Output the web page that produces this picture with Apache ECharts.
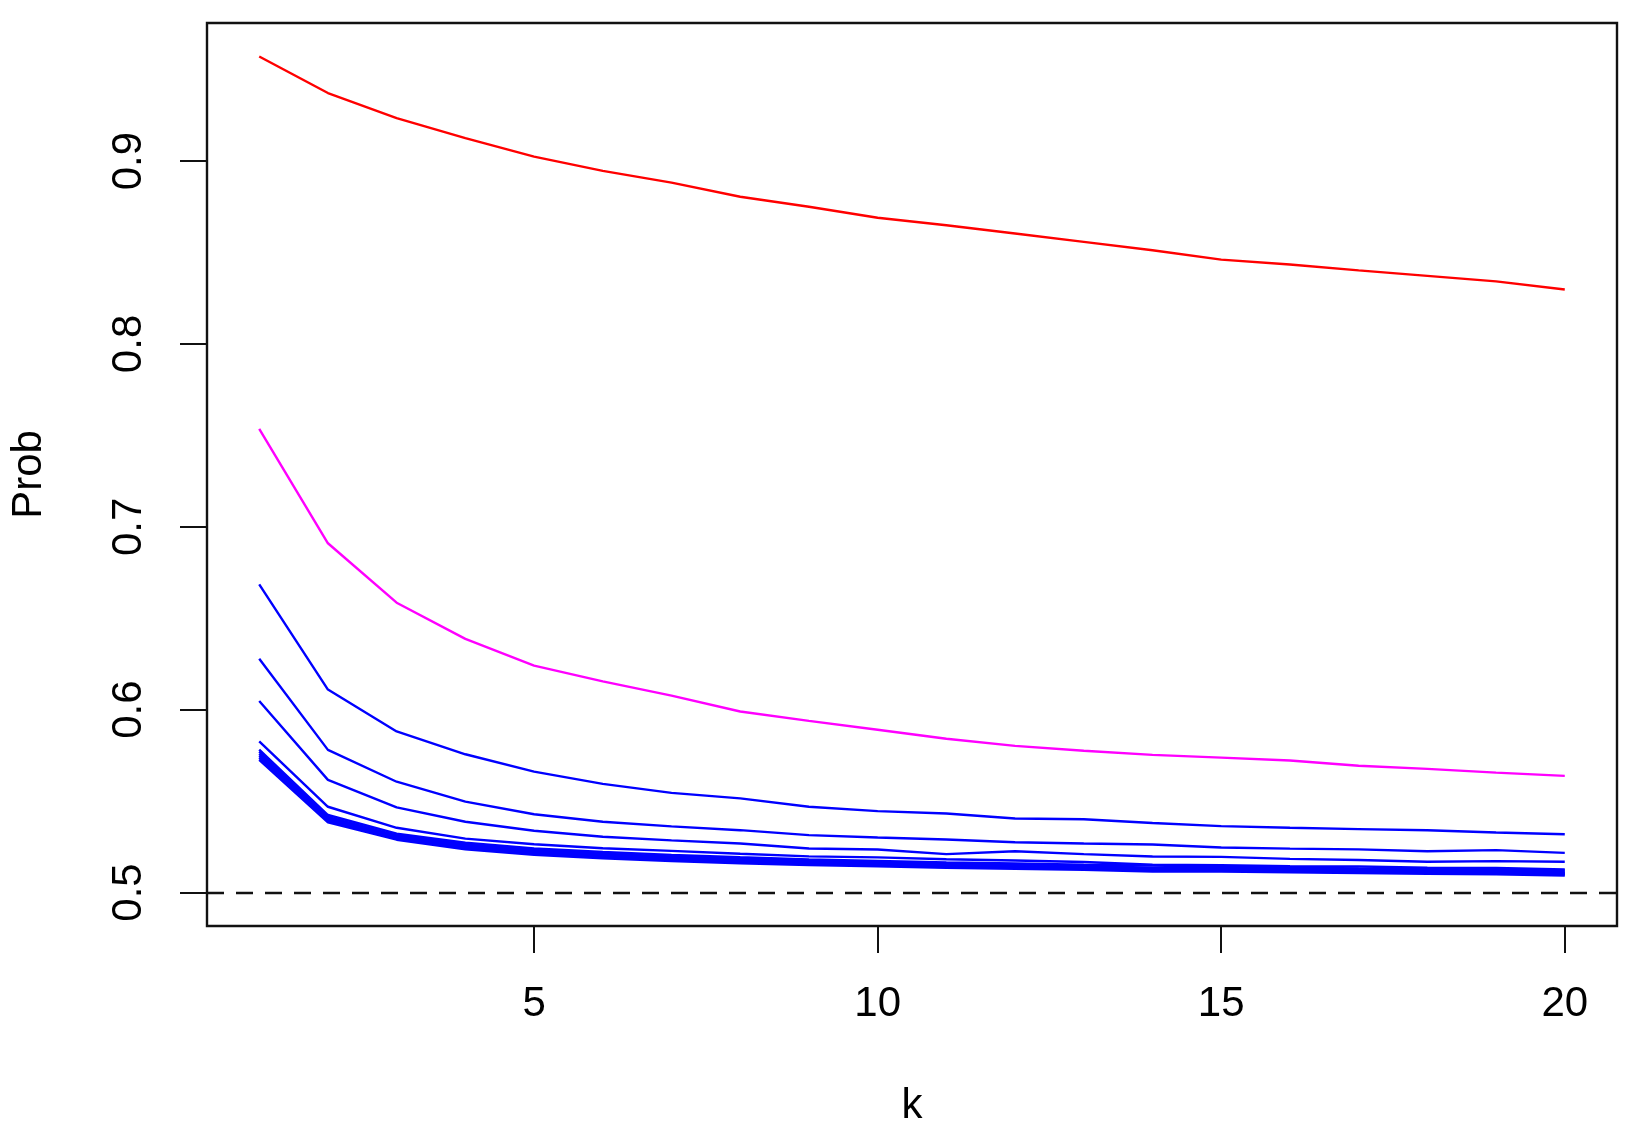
<!DOCTYPE html>
<html>
<head>
<meta charset="utf-8">
<script src="https://cdn.jsdelivr.net/npm/echarts@6/dist/echarts.min.js"></script>
<style>
html,body{margin:0;padding:0;background:#fff;}
#chart{width:1650px;height:1136px;}
</style>
</head>
<body>
<div id="chart"></div>
<script>
const kValues = [1,2,3,4,5,6,7,8,9,10,11,12,13,14,15,16,17,18,19,20];
const xTicks = [5,10,15,20];
const yTicks = [0.5,0.6,0.7,0.8,0.9];

const redLine = [0.9572,0.9372,0.9235,0.9125,0.9024,0.8946,0.8882,0.8805,0.8750,0.8690,0.8649,0.8604,0.8558,0.8512,0.8461,0.8434,0.8402,0.8372,0.8342,0.8298];
const magentaLine = [0.7536,0.6910,0.6585,0.6387,0.6241,0.6155,0.6077,0.5990,0.5939,0.5890,0.5841,0.5802,0.5775,0.5753,0.5738,0.5722,0.5693,0.5676,0.5656,0.5638];
const blue1 = [0.6685,0.6110,0.5881,0.5756,0.5661,0.5594,0.5545,0.5515,0.5469,0.5445,0.5432,0.5405,0.5401,0.5380,0.5363,0.5354,0.5347,0.5341,0.5328,0.5319];
const blue2 = [0.6278,0.5780,0.5606,0.5497,0.5428,0.5387,0.5362,0.5341,0.5314,0.5301,0.5290,0.5275,0.5268,0.5263,0.5246,0.5240,0.5236,0.5226,0.5232,0.5217];
const blue3 = [0.6047,0.5616,0.5466,0.5387,0.5338,0.5305,0.5285,0.5268,0.5241,0.5235,0.5210,0.5226,0.5210,0.5197,0.5195,0.5184,0.5178,0.5168,0.5172,0.5168];
const blue4 = [0.5826,0.5469,0.5354,0.5295,0.5264,0.5242,0.5228,0.5212,0.5198,0.5192,0.5182,0.5175,0.5167,0.5152,0.5150,0.5144,0.5142,0.5136,0.5134,0.5126];
const blue5 = [0.5782,0.5424,0.5322,0.5272,0.5241,0.5222,0.5206,0.5193,0.5181,0.5173,0.5164,0.5159,0.5152,0.5147,0.5141,0.5137,0.5132,0.5129,0.5126,0.5121];
const blue6 = [0.5770,0.5413,0.5313,0.5263,0.5233,0.5213,0.5197,0.5186,0.5176,0.5166,0.5156,0.5151,0.5145,0.5136,0.5136,0.5129,0.5126,0.5121,0.5119,0.5113];
const blue7 = [0.5758,0.5405,0.5306,0.5255,0.5226,0.5205,0.5190,0.5178,0.5168,0.5160,0.5150,0.5145,0.5140,0.5130,0.5128,0.5124,0.5120,0.5116,0.5114,0.5108];
const blue8 = [0.5747,0.5397,0.5299,0.5249,0.5219,0.5199,0.5184,0.5171,0.5162,0.5154,0.5145,0.5139,0.5135,0.5125,0.5124,0.5119,0.5115,0.5112,0.5109,0.5103];
const blue9 = [0.5737,0.5390,0.5294,0.5243,0.5213,0.5193,0.5178,0.5166,0.5156,0.5148,0.5140,0.5135,0.5130,0.5120,0.5120,0.5115,0.5111,0.5108,0.5104,0.5099];
const blue10 = [0.5726,0.5384,0.5289,0.5237,0.5207,0.5187,0.5172,0.5160,0.5150,0.5143,0.5135,0.5130,0.5125,0.5115,0.5115,0.5111,0.5107,0.5103,0.5100,0.5093];
const referenceLevel = 0.5;

const blueLines = [blue1,blue2,blue3,blue4,blue5,blue6,blue7,blue8,blue9,blue10];
const FONT = "'Liberation Sans', Arial, Helvetica, sans-serif";

function mk(values, color) {
  return {
    type: 'line',
    data: values.map((v, i) => [kValues[i], v]),
    symbol: 'none',
    silent: true,
    lineStyle: { color: color, width: 2.4 },
    itemStyle: { color: color },
    z: 3
  };
}

const series = [];
blueLines.forEach(b => series.push(mk(b, '#0000FF')));
series.push(mk(magentaLine, '#FF00FF'));
const red = mk(redLine, '#FF0000');
red.markLine = {
  silent: true,
  symbol: 'none',
  label: { show: false },
  lineStyle: { color: '#111', width: 2.4, type: [17, 12] },
  data: [{ yAxis: referenceLevel }]
};
series.push(red);

const chart = echarts.init(document.getElementById('chart'), null, { renderer: 'canvas' });
chart.setOption({
  animation: false,
  backgroundColor: '#fff',
  grid: {
    left: 207, right: 33, top: 23, bottom: 210,
    show: true, borderColor: '#111', borderWidth: 2.4,
    containLabel: false, outerBoundsMode: 'none'
  },
  xAxis: {
    type: 'value',
    min: 0.24, max: 20.76,
    name: 'k', nameLocation: 'middle', nameGap: 159,
    nameTextStyle: { fontSize: 42, color: '#000', fontFamily: FONT },
    axisLine: { show: false },
    splitLine: { show: false },
    axisTick: { show: true, length: 27, customValues: xTicks, lineStyle: { color: '#111', width: 2 } },
    axisLabel: { show: true, customValues: xTicks, margin: 57, fontSize: 42, color: '#000', fontFamily: FONT }
  },
  yAxis: {
    type: 'value',
    min: 0.4817, max: 0.9755,
    name: 'Prob', nameLocation: 'middle', nameGap: 157,
    nameTextStyle: { fontSize: 42, color: '#000', fontFamily: FONT },
    axisLine: { show: false },
    splitLine: { show: false },
    axisTick: { show: true, length: 27, customValues: yTicks, lineStyle: { color: '#111', width: 2 } },
    axisLabel: { show: true, customValues: yTicks, rotate: 90, margin: 57, fontSize: 42, color: '#000', fontFamily: FONT,
      formatter: v => v.toFixed(1) }
  },
  series: series
});
</script>
</body>
</html>
